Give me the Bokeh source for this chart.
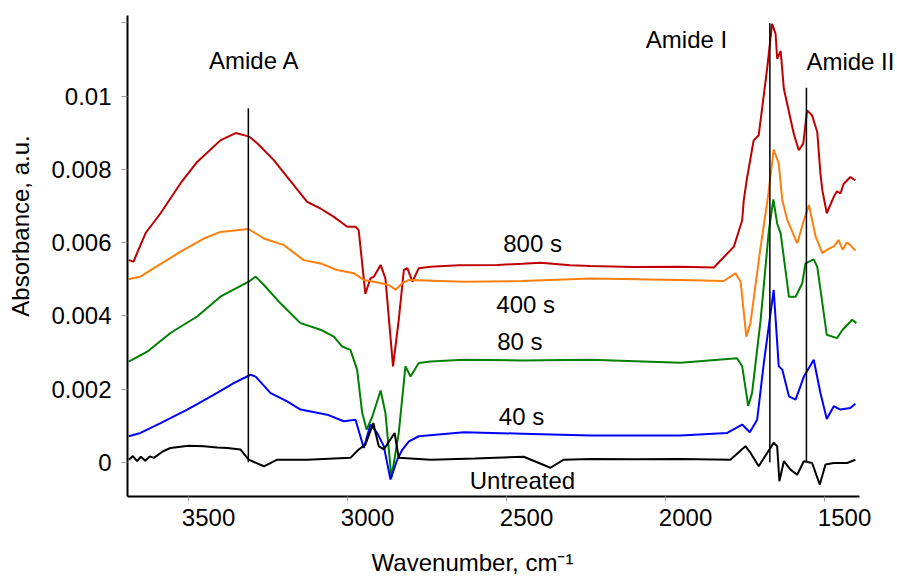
from bokeh.plotting import figure
from bokeh.models import Range1d, FixedTicker, ColumnDataSource
from bokeh.embed import file_html
from bokeh.resources import INLINE
from bokeh.core.properties import value

FONT = "Liberation Sans"
NBSP = "\u00a0"

# ---------------- data (wavenumber cm-1, absorbance a.u.) ----------------
wn_800 = [3688, 3673, 3660, 3635, 3588, 3525, 3473, 3400, 3352, 3311, 3284, 3232, 3190,
          3127, 3085, 3043, 3001, 2975, 2965, 2944, 2928, 2917, 2896, 2881, 2857, 2839,
          2823, 2812, 2796, 2776, 2739, 2650, 2529, 2450, 2393, 2300, 2236, 2100, 1953,
          1848, 1785, 1759, 1754, 1744, 1723, 1707, 1680, 1665, 1654, 1649, 1638, 1628,
          1597, 1581, 1567, 1555, 1539, 1523, 1513, 1507, 1493, 1471, 1461, 1450, 1440,
          1429, 1419, 1403]
abs_800 = [0.00552, 0.00548, 0.00575, 0.00626, 0.00680, 0.00762, 0.00820, 0.00879, 0.00899,
           0.00890, 0.00871, 0.00825, 0.00779, 0.00711, 0.00693, 0.00670, 0.00643, 0.00643,
           0.00634, 0.00460, 0.00502, 0.00507, 0.00539, 0.00502, 0.00262, 0.00389, 0.00525,
           0.00530, 0.00493, 0.00530, 0.00534, 0.00538, 0.00539, 0.00542, 0.00545, 0.00538,
           0.00536, 0.00533, 0.00534, 0.00532, 0.00589, 0.00661, 0.00716, 0.00775, 0.00879,
           0.00893, 0.01079, 0.01197, 0.01170, 0.01102, 0.01123, 0.01020, 0.00898, 0.00852,
           0.00870, 0.00961, 0.00947, 0.00902, 0.00789, 0.00743, 0.00680, 0.00725, 0.00740,
           0.00734, 0.00760, 0.00770, 0.00779, 0.00770]

wn_400 = [3688, 3651, 3609, 3525, 3452, 3400, 3311, 3263, 3200, 3138, 3085, 3033, 2980,
          2949, 2917, 2870, 2849, 2828, 2807, 2634, 2450, 2236, 1953, 1817, 1780, 1764,
          1746, 1733, 1701, 1678, 1660, 1644, 1633, 1617, 1586, 1565, 1549, 1528, 1507,
          1493, 1470, 1456, 1443, 1430, 1419, 1403]
abs_400 = [0.00500, 0.00507, 0.00530, 0.00575, 0.00611, 0.00629, 0.00637, 0.00611, 0.00593,
           0.00552, 0.00543, 0.00525, 0.00516, 0.00498, 0.00493, 0.00484, 0.00471, 0.00489,
           0.00498, 0.00493, 0.00495, 0.00502, 0.00498, 0.00495, 0.00516, 0.00493, 0.00343,
           0.00380, 0.00589, 0.00725, 0.00854, 0.00816, 0.00716, 0.00661, 0.00598, 0.00661,
           0.00702, 0.00616, 0.00571, 0.00580, 0.00590, 0.00607, 0.00580, 0.00600, 0.00593,
           0.00578]

wn_80 = [3688, 3630, 3557, 3473, 3400, 3311, 3289, 3263, 3211, 3148, 3085, 3043, 3017,
         2991, 2970, 2954, 2940, 2922, 2896, 2881, 2862, 2839, 2818, 2802, 2776, 2739,
         2634, 2450, 2236, 1953, 1775, 1759, 1740, 1728, 1701, 1675, 1661, 1649, 1638,
         1612, 1591, 1570, 1560, 1534, 1523, 1493, 1461, 1443, 1413, 1400]
abs_80 = [0.00275, 0.00302, 0.00353, 0.00398, 0.00452, 0.00493, 0.00507, 0.00484, 0.00434,
          0.00380, 0.00362, 0.00343, 0.00316, 0.00307, 0.00253, 0.00135, 0.00089, 0.00125,
          0.00196, 0.00135, -0.00042, 0.00080, 0.00262, 0.00234, 0.00271, 0.00275, 0.00280,
          0.00278, 0.00280, 0.00272, 0.00284, 0.00262, 0.00154, 0.00189, 0.00389, 0.00634,
          0.00718, 0.00652, 0.00625, 0.00452, 0.00452, 0.00489, 0.00543, 0.00554, 0.00534,
          0.00348, 0.00339, 0.00362, 0.00389, 0.00380]

wn_40 = [3688, 3651, 3588, 3504, 3421, 3358, 3305, 3289, 3242, 3190, 3148, 3064, 3012,
         2975, 2949, 2928, 2907, 2886, 2865, 2844, 2828, 2807, 2776, 2634, 2450, 2236,
         1953, 1806, 1759, 1735, 1712, 1691, 1660, 1644, 1633, 1612, 1591, 1565, 1534,
         1513, 1493, 1471, 1450, 1419, 1403]
abs_40 = [0.00071, 0.00080, 0.00107, 0.00144, 0.00184, 0.00216, 0.00239, 0.00234, 0.00189,
          0.00166, 0.00144, 0.00130, 0.00112, 0.00116, 0.00039, 0.00103, 0.00080, 0.00044,
          -0.00047, 0.00007, 0.00034, 0.00057, 0.00071, 0.00082, 0.00078, 0.00073, 0.00073,
          0.00080, 0.00103, 0.00082, 0.00116, 0.00271, 0.00471, 0.00262, 0.00253, 0.00180,
          0.00171, 0.00234, 0.00280, 0.00189, 0.00118, 0.00153, 0.00144, 0.00148, 0.00160]

wn_0 = [3688, 3675, 3662, 3650, 3636, 3622, 3609, 3580, 3557, 3500, 3452, 3410, 3378,
        3337, 3311, 3263, 3221, 3127, 2991, 2965, 2944, 2919, 2902, 2886, 2852, 2839,
        2739, 2600, 2446, 2362, 2320, 2236, 2100, 1953, 1796, 1749, 1733, 1707, 1680,
        1660, 1649, 1642, 1628, 1607, 1586, 1565, 1539, 1515, 1497, 1471, 1429, 1403]
abs_0 = [0.00007, 0.00017, 0.00003, 0.00015, 0.00004, 0.00016, 0.00012, 0.00030, 0.00039,
         0.00045, 0.00044, 0.00040, 0.00039, 0.00035, 0.00007, -0.00011, 0.00007, 0.00007,
         0.00012, 0.00035, 0.00048, 0.00107, 0.00044, 0.00035, 0.00080, 0.00012, 0.00007,
         0.00010, 0.00015, -0.00015, 0.00007, 0.00009, 0.00008, 0.00009, 0.00007, 0.00044,
         0.00026, -0.00011, 0.00026, 0.00053, 0.00044, -0.00052, 0.00003, -0.00020, -0.00034,
         0.00003, -0.00002, -0.00061, -0.00006, -0.00002, -0.00002, 0.00007]

series_names = ["800 s", "400 s", "80 s", "40 s", "Untreated"]
series_colors = ["#C00000", "#FF7F0E", "#008000", "#0000FF", "#000000"]

# curve labels (data coords)
label_text = ["800 s", "400 s", "80 s", "40 s", "Untreated"]
label_wn = [2418, 2440, 2458, 2453, 2450]
label_abs = [0.00597, 0.00432, 0.00329, 0.00126, -0.00049]

# amide band markers
amide_names = ["Amide A", "Amide I", "Amide II"]
amide_wn = [3312, 1672, 1557]
amide_top = [0.00967, 0.01199, 0.01023]
amide_bottom = [0.0, 0.0, 0.00003]
amide_label_wn = [3293, 1934, 1557]
amide_label_abs = [0.01097, 0.01155, 0.01095]
amide_label_align = ["center", "center", "left"]

x_ticks = [3500, 3000, 2500, 2000, 1500]
x_tick_labels = ["3500", "3000", "2500", "2000", "1500"]
y_ticks = [0, 0.002, 0.004, 0.006, 0.008, 0.01]
y_tick_labels = ["0", "0.002", "0.004", "0.006", "0.008", "0.01"]
x_title = "Wavenumber, cm\u207b\u00b9"
y_title = "Absorbance, a.u."

# ---------------- figure ----------------
p = figure(width=897, height=578, output_backend="svg", toolbar_location=None,
           x_range=Range1d(3692, 1270.6), y_range=Range1d(-0.000935, 0.0122),
           min_border_left=127, min_border_right=0, min_border_top=15, min_border_bottom=81)
p.outline_line_color = None
p.xgrid.visible = False
p.ygrid.visible = False
p.background_fill_color = "white"
p.border_fill_color = "white"

curves = [(wn_800, abs_800), (wn_400, abs_400), (wn_80, abs_80), (wn_40, abs_40), (wn_0, abs_0)]
for (xs, ys), c in zip(curves, series_colors):
    p.line(xs, ys, line_color=c, line_width=2)

p.segment(x0=amide_wn, y0=amide_bottom, x1=amide_wn, y1=amide_top,
          line_color="black", line_width=1.5)

lab_src = ColumnDataSource(dict(x=label_wn, y=label_abs, t=label_text))
p.text(x="x", y="y", text="t", source=lab_src, text_font=value(FONT),
       text_font_size=value("24px"), text_align="center", text_baseline="middle",
       text_color="black")

am_src = ColumnDataSource(dict(x=amide_label_wn, y=amide_label_abs, t=amide_names,
                               a=amide_label_align))
p.text(x="x", y="y", text="t", source=am_src, text_font=value(FONT),
       text_font_size=value("24px"), text_align="a", text_baseline="middle",
       text_color="black")

# axes
xa = p.xaxis[0]
xa.ticker = FixedTicker(ticks=x_ticks)
# labels sit slightly right of their tick marks in the reference
xa.major_label_overrides = {k: NBSP * 6 + v for k, v in zip(x_ticks, x_tick_labels)}
xa.bounds = (1390, 3692)
xa.axis_label = x_title + NBSP * 12
xa.axis_line_width = 2
xa.axis_line_color = "black"
xa.major_tick_out = 5
xa.major_tick_in = 0
xa.major_tick_line_color = "#999999"
xa.minor_tick_line_color = None
xa.major_label_standoff = 2

ya = p.yaxis[0]
ya.ticker = FixedTicker(ticks=y_ticks, minor_ticks=[0.012])
ya.major_label_overrides = {k: v for k, v in zip(y_ticks, y_tick_labels)}
ya.axis_label = NBSP * 9 + y_title
ya.axis_line_width = 2
ya.axis_line_color = "black"
ya.major_tick_out = 6
ya.major_tick_in = 0
ya.minor_tick_out = 6
ya.minor_tick_in = 0
ya.major_tick_line_color = "#999999"
ya.minor_tick_line_color = "#999999"
ya.major_label_standoff = 10

for ax in (xa, ya):
    ax.major_label_text_font = FONT
    ax.major_label_text_font_size = "24px"
    ax.major_label_text_color = "black"
    ax.axis_label_text_font = FONT
    ax.axis_label_text_font_size = "24px"
    ax.axis_label_text_font_style = "normal"
    ax.axis_label_text_color = "black"
xa.axis_label_standoff = 15
ya.axis_label_standoff = 14

open("out.html", "w").write(file_html(p, INLINE))
